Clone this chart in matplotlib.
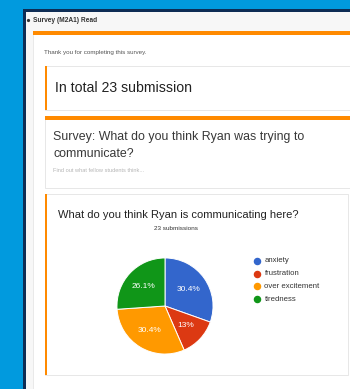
import matplotlib.pyplot as plt
from matplotlib.patches import Rectangle

plt.rcParams['font.family'] = ['Liberation Sans', 'DejaVu Sans']

# survey results (23 submissions)
answers = ['anxiety', 'frustration', 'over excitement', 'tiredness']
counts = [7, 3, 7, 6]
colors = ['#3366cc', '#dc3912', '#ff9900', '#109618']

page_title = 'Survey (M2A1) Read'
thanks = 'Thank you for completing this survey.'
total_text = 'In total 23 submission'
survey_q = 'Survey: What do you think Ryan was trying to\ncommunicate?'
survey_sub = 'Find out what fellow students think...'
chart_title = 'What do you think Ryan is communicating here?'
chart_sub = '23 submissions'

W, H = 350, 389
fig = plt.figure(figsize=(W / 100, H / 100), dpi=100)
fig.patch.set_facecolor('#019ade')

bg = fig.add_axes([0, 0, 1, 1])
bg.set_xlim(0, W)
bg.set_ylim(H, 0)
bg.axis('off')

def box(x, y, w, h, fc, ec='none', lw=0, z=1):
    bg.add_patch(Rectangle((x, y), w, h, facecolor=fc, edgecolor=ec, linewidth=lw, zorder=z))

# window frame
box(23, 9, W, H, '#0e2d55')
box(26, 12, W, H, '#f7f7f7')
# main card
box(33, 31, W, H, 'white', '#e6e6e6', 0.6, z=2)
box(33, 31, W, 4, '#ff8a00', z=3)
# card 1
box(45, 66, W, 44, 'white', '#e3e3e3', 0.6, z=3)
box(45, 66, 2.2, 44, '#ff8a00', z=4)
# card 2
box(45, 116, W, 72, 'white', '#e3e3e3', 0.6, z=3)
box(45, 116, W, 4, '#ff8a00', z=4)
# card 3
box(45, 194, 303, 181, 'white', '#e3e3e3', 0.6, z=3)
box(45, 194, 2.2, 181, '#ff8a00', z=4)

bg.plot([28], [20], marker='o', ms=1.3, color='#333333', zorder=5)
bg.text(33, 20, page_title, fontsize=4.8, fontweight='bold', color='#333333', va='center', zorder=5)
bg.text(44, 52, thanks, fontsize=4.5, color='#555555', va='center', zorder=5)
bg.text(55, 88, total_text, fontsize=10.2, color='#222222', va='center', zorder=5)
bg.text(53, 145.5, survey_q, fontsize=8.9, color='#383838', va='center', linespacing=1.45, zorder=5)
bg.text(53, 170, survey_sub, fontsize=4.1, color='#b5b5b5', va='center', zorder=5)
bg.text(58, 215, chart_title, fontsize=8.0, color='#222222', va='center', zorder=5)
bg.text(176, 228, chart_sub, fontsize=4.6, color='#333333', va='center', ha='center', zorder=5)

# legend
for i, (lab, c) in enumerate(zip(answers, colors)):
    yy = 261 + i * 12.7
    bg.plot([257], [yy], marker='o', ms=4.4, color=c, zorder=5)
    bg.text(264.5, yy, lab, fontsize=5.6, color='#333333', va='center', zorder=5)

# pie
cx, cy, r = 165, 306, 49
pie_ax = fig.add_axes([(cx - r) / W, (H - cy - r) / H, 2 * r / W, 2 * r / H])
pie_ax.set_zorder(10)

def pct(p):
    return ('%.1f' % p).rstrip('0').rstrip('.') + '%'

wedges, texts, autotexts = pie_ax.pie(
    counts, colors=colors, startangle=90, counterclock=False,
    autopct=pct, pctdistance=0.6,
    wedgeprops=dict(edgecolor='white', linewidth=0.7))
for t in autotexts:
    t.set_color('white')
    t.set_fontsize(6.0)
pie_ax.set_xlim(-1.02, 1.02)
pie_ax.set_ylim(-1.02, 1.02)
pie_ax.set_aspect('auto')
pie_ax.axis('off')

fig.savefig('out.png', dpi=100)
